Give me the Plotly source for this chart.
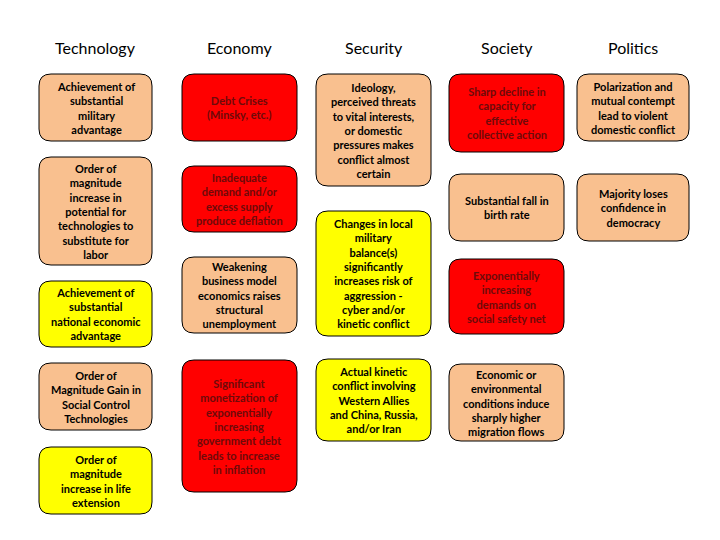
import plotly.graph_objects as go

# colunas e caixas
headers = ["Technology", "Economy", "Security", "Society", "Politics"]
col_left = [39, 182, 316, 449, 577]
col_right = [152, 297, 431, 564, 689]

SAL, RED, YEL = "#F9C08F", "#FF0000", "#FFFF00"

box_col = [0, 0, 0, 0, 0, 1, 1, 1, 1, 2, 2, 2, 3, 3, 3, 3, 4, 4]
box_top = [74, 157, 281, 363, 447, 74, 166, 257, 360, 74, 211, 359, 74, 174, 259, 364, 74, 174]
box_bot = [141, 265, 347, 430, 514, 141, 232, 333, 492, 186, 336, 441, 152, 241, 334, 441, 141, 241]
box_color = [SAL, SAL, YEL, SAL, YEL, RED, RED, SAL, RED, SAL, YEL, YEL, RED, SAL, RED, SAL, SAL, SAL]
box_text = [
    "Achievement of<br>substantial<br>military<br>advantage",
    "Order of<br>magnitude<br>increase in<br>potential for<br>technologies to<br>substitute for<br>labor",
    "Achievement of<br>substantial<br>national economic<br>advantage",
    "Order of<br>Magnitude Gain in<br>Social Control<br>Technologies",
    "Order of<br>magnitude<br>increase in life<br>extension",
    "Debt Crises<br>(Minsky, etc.)",
    "Inadequate<br>demand and/or<br>excess supply<br>produce deflation",
    "Weakening<br>business model<br>economics raises<br>structural<br>unemployment",
    "Significant<br>monetization of<br>exponentially<br>increasing<br>government debt<br>leads to increase<br>in inflation",
    "Ideology,<br>perceived threats<br>to vital interests,<br>or domestic<br>pressures makes<br>conflict almost<br>certain",
    "Changes in local<br>military<br>balance(s)<br>significantly<br>increases risk of<br>aggression -<br>cyber and/or<br>kinetic conflict",
    "Actual kinetic<br>conflict involving<br>Western Allies<br>and China, Russia,<br>and/or Iran",
    "Sharp decline in<br>capacity for<br>effective<br>collective action",
    "Substantial fall in<br>birth rate",
    "Exponentially<br>increasing<br>demands on<br>social safety net",
    "Economic or<br>environmental<br>conditions induce<br>sharply higher<br>migration flows",
    "Polarization and<br>mutual contempt<br>lead to violent<br>domestic conflict",
    "Majority loses<br>confidence in<br>democracy",
]


def rounded(x0, y0, x1, y1, r=12):
    return (f"M {x0+r},{y0} L {x1-r},{y0} Q {x1},{y0} {x1},{y0+r} "
            f"L {x1},{y1-r} Q {x1},{y1} {x1-r},{y1} L {x0+r},{y1} "
            f"Q {x0},{y1} {x0},{y1-r} L {x0},{y0+r} Q {x0},{y0} {x0+r},{y0} Z")


fig = go.Figure()
shapes, annotations = [], []

for i, h in enumerate(headers):
    annotations.append(dict(x=(col_left[i] + col_right[i]) / 2, y=47, text=h, showarrow=False,
                            font=dict(size=16, color="black", family="Lato, sans-serif")))

for c, t, b, col, txt in zip(box_col, box_top, box_bot, box_color, box_text):
    x0, x1 = col_left[c], col_right[c]
    shapes.append(dict(type="path", path=rounded(x0, t, x1, b), fillcolor=col,
                       line=dict(color="black", width=1), xref="x", yref="y"))
    txt_color = "#6E0A0A" if col == RED else "black"
    annotations.append(dict(x=(x0 + x1) / 2, y=(t + b) / 2, text="<b>" + txt + "</b>", showarrow=False,
                            font=dict(size=11, color=txt_color, family="Lato, sans-serif"),
                            align="center"))

# la página tiene un margen de 8px: se compensa desplazando los ejes
fig.update_layout(
    width=720, height=540, margin=dict(l=0, r=0, t=0, b=0),
    plot_bgcolor="white", paper_bgcolor="white",
    xaxis=dict(range=[8, 728], visible=False, fixedrange=True),
    yaxis=dict(range=[548, 8], visible=False, fixedrange=True),
    shapes=shapes, annotations=annotations, showlegend=False,
)

fig.write_html("out.html")
